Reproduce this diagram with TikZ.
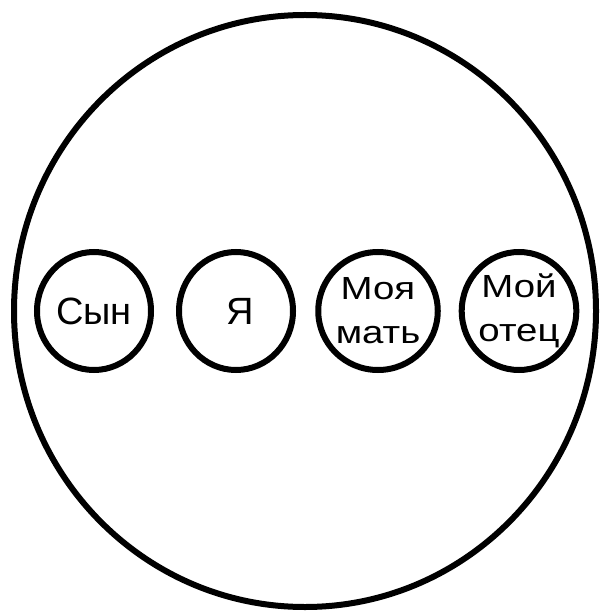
\documentclass[tikz,border=0pt]{standalone}
\usepackage{fontspec}
\setmainfont{Liberation Sans}
\usetikzlibrary{shapes.geometric}
\begin{document}
\begin{tikzpicture}[x=1pt,y=-1pt,
  outerring/.style={draw, ellipse, line width=6pt, minimum width=582pt, minimum height=592pt, inner sep=0pt},
  ring/.style={draw, ellipse, line width=6pt, minimum width=114pt, minimum height=118pt, inner sep=0pt},
  bigtxt/.style={font=\fontsize{38}{40}\selectfont},
  smalltxt/.style={font=\fontsize{32}{44}\selectfont, align=center}]
\useasboundingbox (0,0) rectangle (601,612);
\node[outerring] (outer) at (305,311) {};
\node[ring, bigtxt] (son) at (94,311) {Сын};
\node[ring, bigtxt] (me) at (236,311) {\hspace*{8pt}Я};
\node[ring, smalltxt] (mother) at (378,311) {\scalebox{1.2}[1]{Моя}\\\scalebox{1.2}[1]{мать}};
\node[ring, smalltxt] (father) at (519,311) {\scalebox{1.2}[1]{Мой}\\\scalebox{1.2}[1]{отец}};
\end{tikzpicture}
\end{document}
